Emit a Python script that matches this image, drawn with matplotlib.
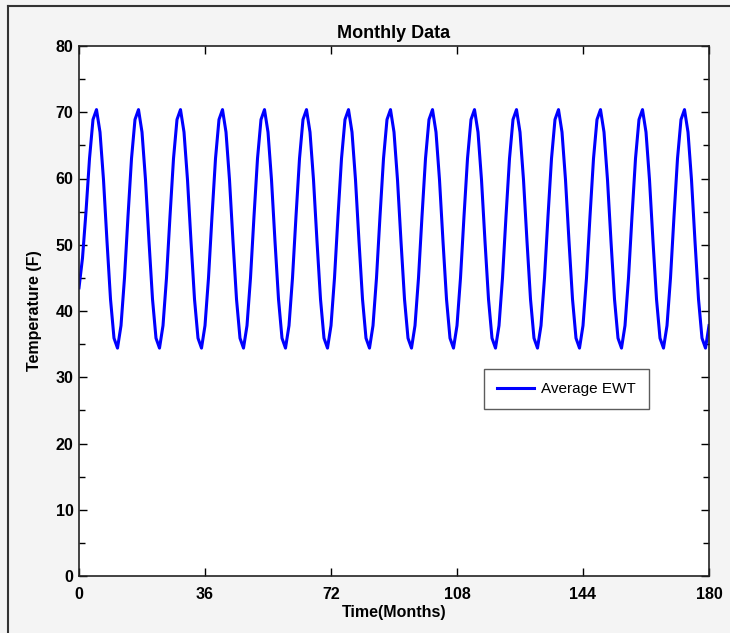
import numpy as np
import matplotlib
matplotlib.use("Agg")
import matplotlib.pyplot as plt
from matplotlib.ticker import MultipleLocator
from matplotlib.lines import Line2D

# Data: monthly average entering water temperature (F), months 0..180
first_months = [43.5, 48.0, 55.0, 63.0, 68.9]          # start-up transient (months 0-4)
year_profile = [37.8, 45.0, 54.3, 63.0, 68.9, 70.4,
                67.0, 59.8, 50.5, 41.8, 35.9, 34.4]      # repeating annual cycle (month mod 12)
n_years = 15
months = list(range(0, 181))
values = first_months + (year_profile * (n_years + 1))[len(first_months):181]

x_ticks = [0, 36, 72, 108, 144, 180]
y_ticks = [0, 10, 20, 30, 40, 50, 60, 70, 80]

plt.rcParams['font.family'] = ['Liberation Sans', 'DejaVu Sans']

fig = plt.figure(figsize=(7.30, 6.33), dpi=100)
fig.patch.set_facecolor('#f4f4f4')
ax = fig.add_axes([79/730, 1 - 576/633, (709-79)/730, (576-46)/633])
ax.set_facecolor('white')

ax.plot(months, values, color='#0000ff', lw=2.2, label='Average EWT')

ax.set_xlim(0, 180)
ax.set_ylim(0, 80)
ax.set_xticks(x_ticks)
ax.set_yticks(y_ticks)
ax.yaxis.set_minor_locator(MultipleLocator(5))
ax.tick_params(which='both', direction='in', top=True, right=True, width=1.0)
ax.tick_params(which='major', length=6, labelsize=11.5)
ax.tick_params(axis='x', which='major', pad=8)
ax.tick_params(axis='y', which='major', pad=4)
ax.tick_params(which='minor', length=4)
for lbl in ax.get_xticklabels() + ax.get_yticklabels():
    lbl.set_fontweight('bold')
for s in ax.spines.values():
    s.set_linewidth(1.2)
    s.set_color('#222222')

ax.set_title('Monthly Data', fontsize=13, fontweight='bold', pad=6)
ax.set_xlabel('Time(Months)', fontsize=11.5, fontweight='bold', labelpad=2)
ax.set_ylabel('Temperature (F)', fontsize=11.5, fontweight='bold', labelpad=10)

leg = ax.legend(loc='upper left', bbox_to_anchor=((484-79)/630, (576-369)/530),
                fontsize=11, frameon=True, fancybox=False, borderpad=0.85,
                handlelength=2.4, handletextpad=0.5, borderaxespad=0)
leg.get_frame().set_edgecolor('#333333')
leg.get_frame().set_linewidth(1.0)

# outer frame lines (left and top)
fig.add_artist(Line2D([8/730, 8/730], [0, 1 - 6/633], transform=fig.transFigure,
                      color='#333333', lw=1.5))
fig.add_artist(Line2D([8/730, 1], [1 - 6/633, 1 - 6/633], transform=fig.transFigure,
                      color='#333333', lw=1.5))

fig.savefig('out.png', dpi=100, facecolor=fig.get_facecolor())
